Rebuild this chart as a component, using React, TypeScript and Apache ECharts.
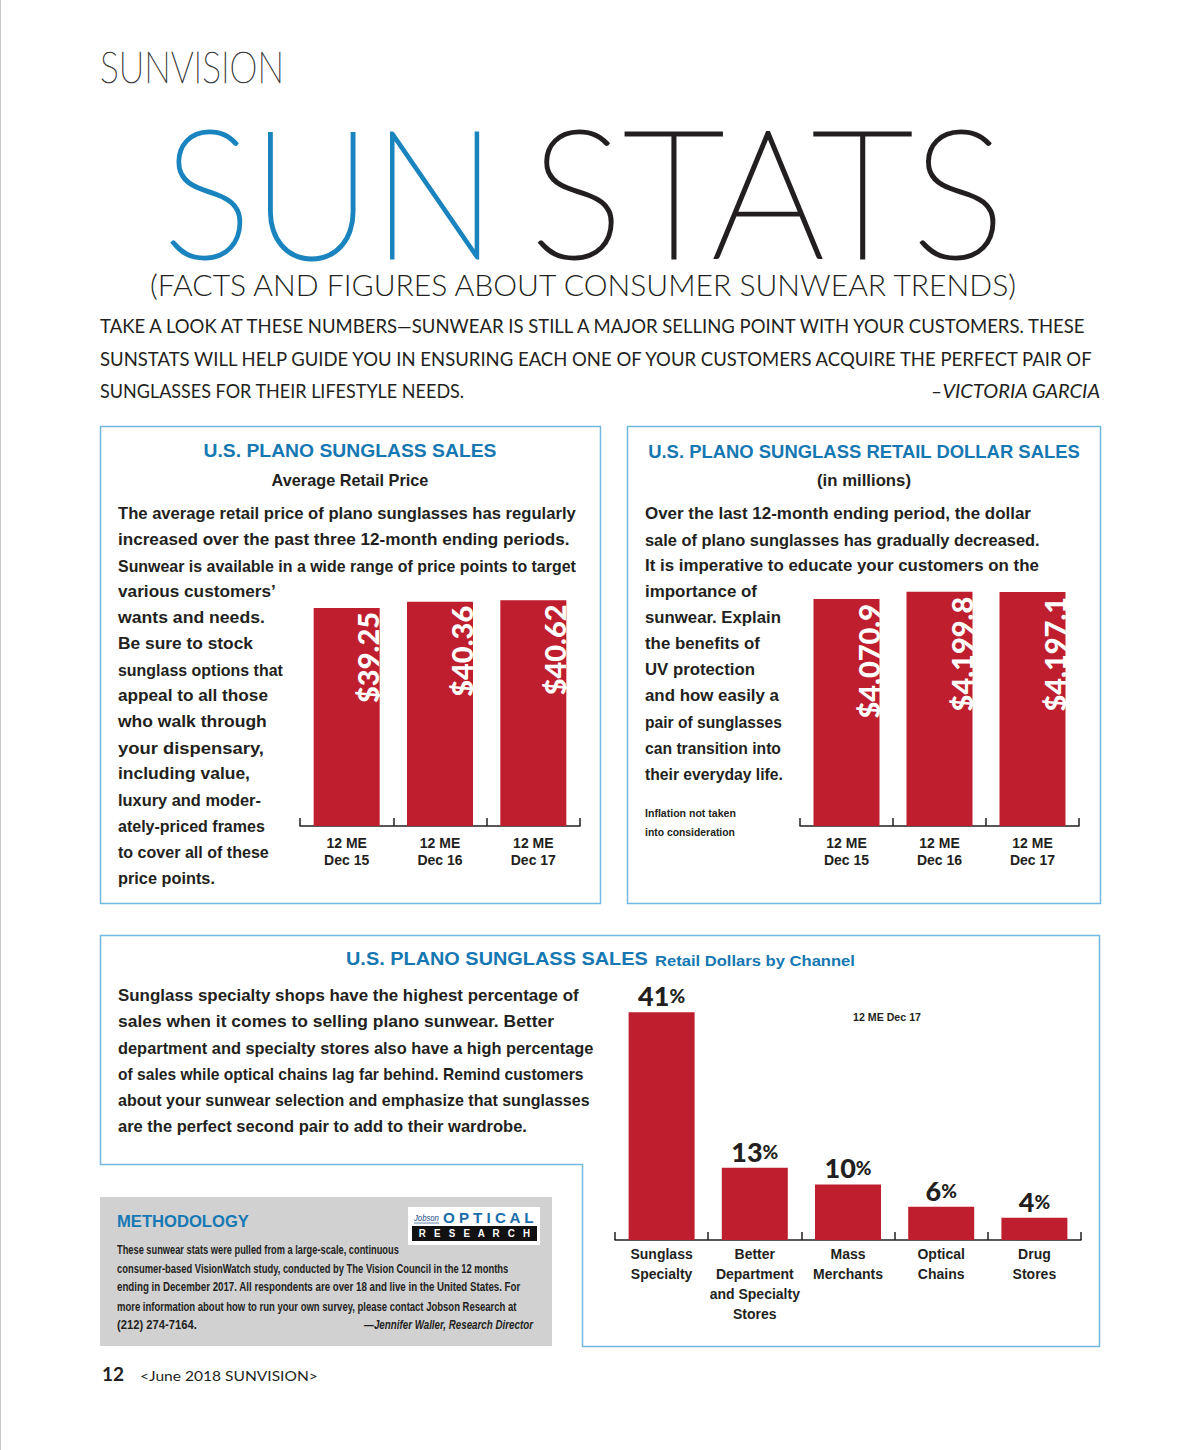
import React, { useEffect, useRef } from "react";
import * as echarts from "echarts";

// ---------- DATA ----------
const priceCategories = ["12 ME\nDec 15", "12 ME\nDec 16", "12 ME\nDec 17"];
const avgRetailPrice = [39.25, 40.36, 40.62];

const salesCategories = ["12 ME\nDec 15", "12 ME\nDec 16", "12 ME\nDec 17"];
const retailDollarSales = [4070.9, 4199.8, 4197.1];

const channelCategories = [
  "Sunglass\nSpecialty",
  "Better\nDepartment\nand Specialty\nStores",
  "Mass\nMerchants",
  "Optical\nChains",
  "Drug\nStores",
];
const channelShare = [41, 13, 10, 6, 4];

// ---------- TEXT ----------
const introLines = [
  "TAKE A LOOK AT THESE NUMBERS\u2014SUNWEAR IS STILL A MAJOR SELLING POINT WITH YOUR CUSTOMERS. THESE",
  "SUNSTATS WILL HELP GUIDE YOU IN ENSURING EACH ONE OF YOUR CUSTOMERS ACQUIRE THE PERFECT PAIR OF",
  "SUNGLASSES FOR THEIR LIFESTYLE NEEDS.",
];
const introEnds = [1092, 1097, 465];
const para1 = [
  "The average retail price of plano sunglasses has regularly",
  "increased over the past three 12-month ending periods.",
  "Sunwear is available in a wide range of price points to target",
  "various customers\u2019",
  "wants and needs.",
  "Be sure to stock",
  "sunglass options that",
  "appeal to all those",
  "who walk through",
  "your dispensary,",
  "including value,",
  "luxury and moder-",
  "ately-priced frames",
  "to cover all of these",
  "price points.",
];
const para1Ends = [576, 570, 576, 276, 265, 253, 283, 268, 267, 264, 250, 261, 265, 269, 215];
const para2 = [
  "Over the last 12-month ending period, the dollar",
  "sale of plano sunglasses has gradually decreased.",
  "It is imperative to educate your customers on the",
  "importance of",
  "sunwear. Explain",
  "the benefits of",
  "UV protection",
  "and how easily a",
  "pair of sunglasses",
  "can transition into",
  "their everyday life.",
];
const para2Ends = [1031, 1040, 1039, 757, 781, 760, 755, 779, 782, 781, 783];
const para3 = [
  "Sunglass specialty shops have the highest percentage of",
  "sales when it comes to selling plano sunwear. Better",
  "department and specialty stores also have a high percentage",
  "of sales while optical chains lag far behind. Remind customers",
  "about your sunwear selection and emphasize that sunglasses",
  "are the perfect second pair to add to their wardrobe.",
];
const para3Ends = [579, 554, 594, 584, 590, 527];
const methodLines = [
  "These sunwear stats were pulled from a large-scale, continuous",
  "consumer-based VisionWatch study, conducted by The Vision Council in the 12 months",
  "ending in December 2017. All respondents are over 18 and live in the United States. For",
  "more information about how to run your own survey, please contact Jobson Research at",
  "(212) 274-7164.",
];
const methodEnds = [399, 509, 521, 517, 197];

// ---------- STYLE ----------
const RED = "#be1e2d";
const SUN_BLUE = "#1a84bf";
const TITLE_BLUE = "#1678b2";
const BORDER = "#74b8e0";
const INK = "#231f20";
const HEAD = "Lato, 'Open Sans', sans-serif";
const BODY = "'Liberation Sans', Arial, sans-serif";
const HEAVY = "Lato, 'Liberation Sans', sans-serif";

let ctx: CanvasRenderingContext2D | null = null;
function measure(text: string, size: number, family: string, weight: any = "normal", style = "normal") {
  if (!ctx) ctx = document.createElement("canvas").getContext("2d");
  ctx!.font = `${style} ${weight} ${size}px ${family}`;
  return ctx!.measureText(text).width;
}

type TO = {
  size: number;
  family?: string;
  weight?: any;
  style?: string;
  color?: string;
  align?: string;
  va?: string;
  width?: number;
  sx?: number;
  strokeW?: number;
};
function T(text: string, x: number, y: number, o: TO) {
  const family = o.family || BODY;
  const weight = o.weight || "normal";
  const style = o.style || "normal";
  let sx = 1;
  if (o.width) sx = o.width / measure(text, o.size, family, weight, style);
  if (o.sx) sx = o.sx;
  const align = o.align || "left";
  const va = o.va || "middle";
  const st: any = {
    text,
    fill: o.color || INK,
    fontSize: o.size,
    fontFamily: family,
    fontWeight: weight,
    fontStyle: style,
    align,
    verticalAlign: va,
    textAlign: align,
    textVerticalAlign: va,
  };
  if (o.strokeW) {
    st.stroke = o.color || INK;
    st.lineWidth = o.strokeW;
  }
  return { type: "text", x, y, scaleX: sx, silent: true, z: 10, style: st };
}
// each line fitted to the width it has in the printed page
function paragraph(lines: string[], ends: number[], x: number, y0: number, step: number, o: TO) {
  return lines.map((l, i) => T(l, x, y0 + i * step, { ...o, width: ends[i] - x }));
}

function buildOption() {
  const g: any[] = [];
  // page edge
  g.push({ type: "line", silent: true, shape: { x1: 0.5, y1: 0, x2: 0.5, y2: 1450 }, style: { stroke: "#c8c8c8", lineWidth: 1 } });
  // header
  g.push(T("SUNVISION", 100, 66, { size: 44, family: HEAD, weight: 200, color: "#3a3a3a", width: 184, strokeW: 0.7 }));
  g.push(T("SUN", 163, 189, { size: 178, family: HEAD, weight: 200, color: SUN_BLUE, width: 334, strokeW: 3 }));
  g.push(T("STATS", 530, 189, { size: 178, family: HEAD, weight: 200, color: "#231f20", width: 475, strokeW: 3 }));
  g.push(T("(FACTS AND FIGURES ABOUT CONSUMER SUNWEAR TRENDS)", 583, 285, { size: 29, family: HEAD, weight: 300, color: INK, align: "center", width: 870 }));
  g.push(...paragraph(introLines, introEnds, 100, 325, 33, { size: 19, family: HEAD, weight: 400 }));
  g.push(T("\u2013VICTORIA GARCIA", 1100, 391, { size: 19, family: HEAD, weight: 400, style: "italic", align: "right", width: 170 }));

  // boxes
  g.push({ type: "rect", silent: true, shape: { x: 100.5, y: 426.5, width: 500, height: 477 }, style: { fill: "none", stroke: BORDER, lineWidth: 1.5 } });
  g.push({ type: "rect", silent: true, shape: { x: 627.5, y: 426.5, width: 473, height: 477 }, style: { fill: "none", stroke: BORDER, lineWidth: 1.5 } });
  g.push({
    type: "polygon",
    silent: true,
    shape: { points: [[100.5, 935.5], [1099.5, 935.5], [1099.5, 1346.5], [582.5, 1346.5], [582.5, 1164.5], [100.5, 1164.5]] },
    style: { fill: "none", stroke: BORDER, lineWidth: 1.5 },
  });

  // box 1 text
  g.push(T("U.S. PLANO SUNGLASS SALES", 350, 451, { size: 18.5, weight: "bold", color: TITLE_BLUE, align: "center", width: 293 }));
  g.push(T("Average Retail Price", 350, 480, { size: 16, weight: "bold", align: "center", width: 157 }));
  g.push(...paragraph(para1, para1Ends, 118, 514, 26, { size: 16.5, weight: "bold" }));

  // box 2 text
  g.push(T("U.S. PLANO SUNGLASS RETAIL DOLLAR SALES", 864, 451, { size: 18.5, weight: "bold", color: TITLE_BLUE, align: "center", width: 432 }));
  g.push(T("(in millions)", 864, 480, { size: 16, weight: "bold", align: "center", width: 94 }));
  g.push(...paragraph(para2, para2Ends, 645, 514, 26, { size: 16.5, weight: "bold" }));
  g.push(...paragraph(["Inflation not taken", "into consideration"], [736, 735], 645, 813, 19, { size: 11, weight: "bold" }));

  // bottom box text
  g.push(T("U.S. PLANO SUNGLASS SALES", 346, 968, { size: 18.5, weight: "bold", color: TITLE_BLUE, va: "bottom", width: 302 }));
  g.push(T("Retail Dollars by Channel", 655, 968, { size: 15.5, weight: "bold", color: TITLE_BLUE, va: "bottom", width: 200 }));
  g.push(...paragraph(para3, para3Ends, 118, 996, 26, { size: 16.5, weight: "bold" }));
  g.push(T("12 ME Dec 17", 853, 1017, { size: 11, weight: "bold", width: 68 }));

  // methodology
  g.push({ type: "rect", silent: true, shape: { x: 100, y: 1197, width: 452, height: 149 }, style: { fill: "#d1d1d2" } });
  g.push(T("METHODOLOGY", 117, 1221, { size: 17, weight: "bold", color: TITLE_BLUE, width: 132 }));
  g.push({ type: "rect", silent: true, shape: { x: 408, y: 1207, width: 132, height: 38 }, style: { fill: "#ffffff" } });
  g.push(T("Jobson", 414, 1218, { size: 9, style: "italic", color: "#1b4e8c", width: 25 }));
  g.push({ type: "line", silent: true, shape: { x1: 414, y1: 1223, x2: 439, y2: 1223 }, style: { stroke: "#1b4e8c", lineWidth: 0.7 } });
  g.push(T("O P T I C A L", 443, 1218, { size: 14, weight: "bold", color: "#1a6dac", width: 92 }));
  g.push({ type: "rect", silent: true, shape: { x: 412, y: 1226, width: 125, height: 15 }, style: { fill: "#111111" } });
  g.push(T("R   E   S   E   A   R   C   H", 474.5, 1233.5, { size: 11, weight: "bold", color: "#ffffff", align: "center", width: 112 }));
  g.push(...paragraph(methodLines, methodEnds, 117, 1249, 19, { size: 12.5, weight: "bold" }));
  g.push(T("\u2014Jennifer Waller, Research Director", 533, 1325, { size: 12.5, weight: "bold", style: "italic", align: "right", width: 169 }));

  // footer
  g.push(T("12", 102, 1374, { size: 18, weight: "bold", family: HEAD, color: INK, width: 22 }));
  g.push(T("<June 2018 SUNVISION>", 140, 1375, { size: 14, family: HEAD, color: INK, width: 178 }));

  const axisCommon = {
    type: "category",
    axisLine: { show: true, lineStyle: { color: "#231f20", width: 1.5 } },
    axisTick: { show: true, inside: true, length: 8, lineStyle: { color: "#231f20", width: 1.5 } },
    splitLine: { show: false },
  };
  const catLabel = (size: number, lh: number, margin: number) => ({
    interval: 0,
    color: INK,
    fontFamily: BODY,
    fontWeight: "bold",
    fontSize: size,
    lineHeight: lh,
    margin,
  });
  const valueLabel = (pos: number[], fmt: (v: number) => string) => ({
    show: true,
    position: pos,
    rotate: 90,
    align: "right",
    verticalAlign: "middle",
    color: "#ffffff",
    fontFamily: HEAVY,
    fontWeight: 900,
    fontSize: 29,
    formatter: (p: any) => fmt(p.value),
  });

  return {
    animation: false,
    backgroundColor: "#ffffff",
    graphic: g,
    grid: [
      { left: 300, top: 576, width: 280, height: 250 },
      { left: 800, top: 575, width: 279, height: 251 },
      { left: 615, top: 990, width: 466, height: 250 },
    ],
    xAxis: [
      { ...axisCommon, gridIndex: 0, data: priceCategories, axisLabel: catLabel(14, 17, 8) },
      { ...axisCommon, gridIndex: 1, data: salesCategories, axisLabel: catLabel(14, 17, 8) },
      { ...axisCommon, gridIndex: 2, data: channelCategories, axisLabel: catLabel(14, 20, 4) },
    ],
    yAxis: [
      { type: "value", gridIndex: 0, min: 0, max: 45, show: false },
      { type: "value", gridIndex: 1, min: 0, max: 4500, show: false },
      { type: "value", gridIndex: 2, min: 0, max: 45, show: false },
    ],
    series: [
      {
        type: "bar",
        xAxisIndex: 0,
        yAxisIndex: 0,
        data: avgRetailPrice,
        barWidth: 66,
        itemStyle: { color: RED },
        label: valueLabel([54, 4], (v) => "$" + v.toFixed(2)),
      },
      {
        type: "bar",
        xAxisIndex: 1,
        yAxisIndex: 1,
        data: retailDollarSales,
        barWidth: 66,
        itemStyle: { color: RED },
        label: valueLabel([55, 5], (v) => "$" + v.toLocaleString("en-US", { minimumFractionDigits: 1, maximumFractionDigits: 1 })),
      },
      {
        type: "bar",
        xAxisIndex: 2,
        yAxisIndex: 2,
        data: channelShare,
        barWidth: 66,
        itemStyle: { color: RED },
        label: {
          show: true,
          position: "top",
          distance: 3,
          formatter: (p: any) => `{n|${p.value}}{p|%}`,
          rich: {
            n: { fontFamily: HEAVY, fontWeight: 900, fontSize: 27, color: INK },
            p: { fontFamily: HEAVY, fontWeight: 900, fontSize: 19, color: INK },
          },
        },
      },
    ],
  };
}

export default function App() {
  const ref = useRef<HTMLDivElement>(null);
  useEffect(() => {
    const chart = echarts.init(ref.current!, undefined, { renderer: "svg", width: 1200, height: 1450 });
    chart.setOption(buildOption() as any);
    return () => chart.dispose();
  }, []);
  return (
    <div
      ref={ref}
      style={{ position: "absolute", left: 0, top: 0, width: 1200, height: 1450, background: "#fff" }}
    />
  );
}
